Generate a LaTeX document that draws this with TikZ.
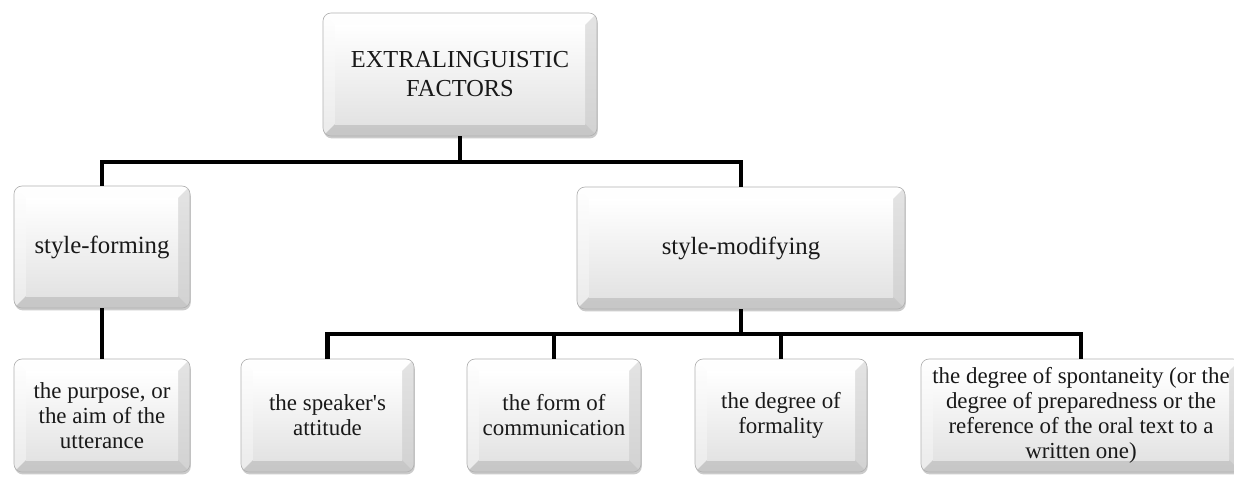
\documentclass[tikz,border=0pt]{standalone}
\usepackage{fontspec}
\setmainfont{Liberation Serif}
\usetikzlibrary{shadows}
\tikzset{
  bevelbox/.style={rounded corners=6pt, draw=gray!60, line width=0.5pt, align=center,
    inner sep=0pt, text=black!90,
    drop shadow={shadow xshift=0.6pt, shadow yshift=-1.8pt, opacity=0.45, fill=black!45},
    path picture={
      \shade[sharp corners, top color=white, bottom color=gray!35]
        (path picture bounding box.north west) rectangle (path picture bounding box.south east);
      \fill[sharp corners, white, opacity=0.85]
        (path picture bounding box.north west) -- (path picture bounding box.north east)
        -- ([shift={(-9pt,-9pt)}]path picture bounding box.north east)
        -- ([shift={(9pt,-9pt)}]path picture bounding box.north west) -- cycle;
      \fill[sharp corners, white, opacity=0.55]
        (path picture bounding box.north west) -- (path picture bounding box.south west)
        -- ([shift={(9pt,9pt)}]path picture bounding box.south west)
        -- ([shift={(9pt,-9pt)}]path picture bounding box.north west) -- cycle;
      \fill[sharp corners, gray!35, opacity=0.6]
        (path picture bounding box.north east) -- (path picture bounding box.south east)
        -- ([shift={(-9pt,9pt)}]path picture bounding box.south east)
        -- ([shift={(-9pt,-9pt)}]path picture bounding box.north east) -- cycle;
      \fill[sharp corners, gray!50, opacity=0.6]
        (path picture bounding box.south west) -- (path picture bounding box.south east)
        -- ([shift={(-9pt,9pt)}]path picture bounding box.south east)
        -- ([shift={(9pt,9pt)}]path picture bounding box.south west) -- cycle;
      \shade[sharp corners, top color=white, bottom color=gray!22]
        ([shift={(9pt,-9pt)}]path picture bounding box.north west)
        rectangle ([shift={(-9pt,9pt)}]path picture bounding box.south east);
    }},
  topfont/.style={font=\fontsize{18.3}{21.75}\selectfont},
  midfont/.style={font=\fontsize{18.6}{21}\selectfont},
  lowfont/.style={font=\fontsize{17.2}{18.75}\selectfont},
  lowbox/.style={bevelbox, lowfont, minimum height=84.75pt},
  conn/.style={line width=3.4pt, black}
}
\begin{document}
\begin{tikzpicture}[x=0.75pt,y=-0.75pt]
\useasboundingbox (0,0) rectangle (1234,480);
\fill[white] (0,0) rectangle (1234,480);

\node[bevelbox, topfont, minimum width=205.5pt, minimum height=92.25pt] (top) at (460,74.5)
  {EXTRALINGUISTIC\\FACTORS};
\node[bevelbox, midfont, minimum width=132pt, minimum height=91.5pt] (sf) at (102,247) {style-forming};
\node[bevelbox, midfont, minimum width=246pt, minimum height=91.5pt] (sm) at (741,248) {style-modifying};

\node[lowbox, minimum width=132pt] (b1) at (102,415.5) {the purpose, or\\the aim of the\\utterance};
\node[lowbox, minimum width=129.75pt] (b2) at (327.5,415.5) {the speaker\textquotesingle s\\attitude};
\node[lowbox, minimum width=130.5pt] (b3) at (554,415.5) {the form of\\communication};
\node[lowbox, minimum width=129pt] (b4) at (781,415.5) {the degree of\\formality};
\node[lowbox, minimum width=240pt] (b5) at (1081,415.5)
  {the degree of spontaneity (or the\\degree of preparedness or the\\reference of the oral text to a\\written one)};

\coordinate (bus1) at (0,162);
\coordinate (bus2) at (0,334);

\draw[conn] (top.south) -- (top.south |- bus1);
\draw[conn] (sf.north) |- (top.south |- bus1) -| (sm.north);
\draw[conn] (sf.south) -- (b1.north);
\draw[conn] (sm.south) -- (sm.south |- bus2);
\draw[conn] (b2.north) |- (sm.south |- bus2) -| (b5.north);
\draw[conn] (b3.north) -- (b3.north |- bus2);
\draw[conn] (b4.north) -- (b4.north |- bus2);
\end{tikzpicture}
\end{document}
